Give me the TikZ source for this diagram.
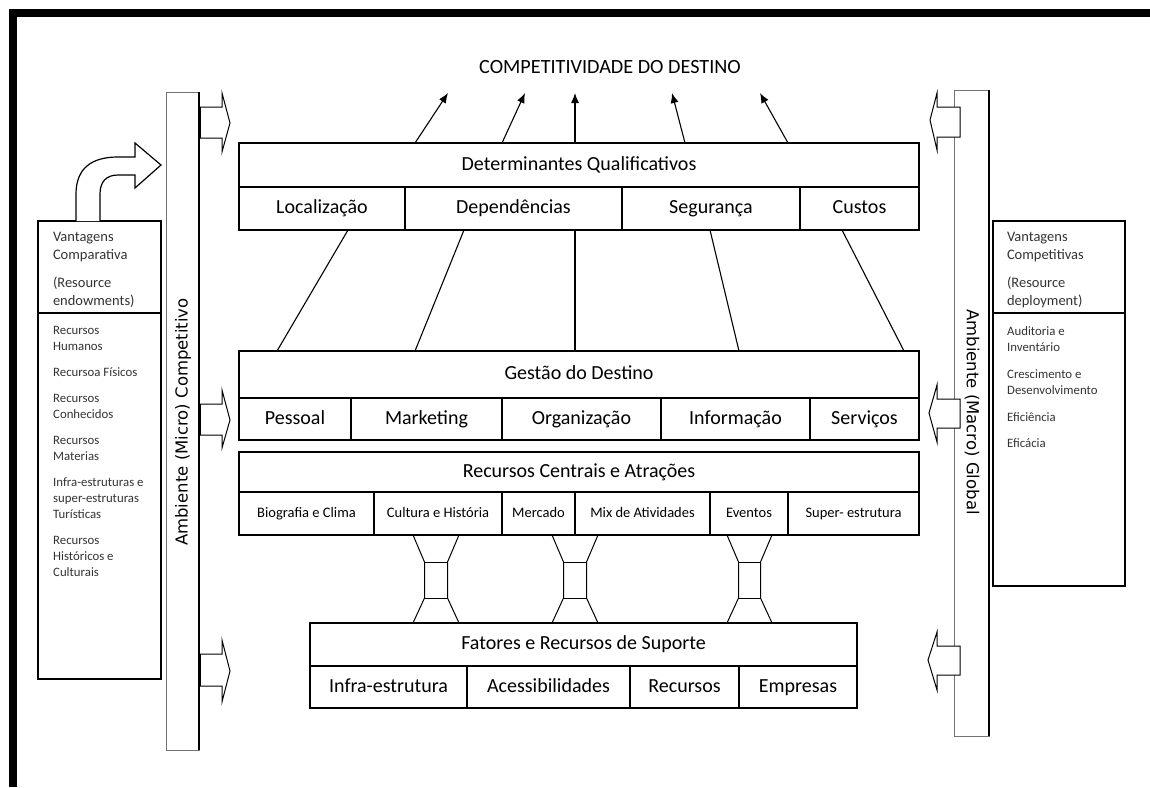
\documentclass[tikz,border=0pt]{standalone}
\usepackage{fontspec}
\setmainfont{Carlito}
\newfontfamily\barfont{DejaVu Sans}
\usepackage{tikz}
\usetikzlibrary{positioning}
\usetikzlibrary{arrows.meta}

\tikzset{
  cell/.style={draw, line width=1.2pt, inner sep=0pt, outer sep=0pt, text height=14pt, text depth=4pt, font=\fontsize{20}{24}\selectfont},
  smallcell/.style={cell, text height=10pt, text depth=3pt, font=\fontsize{14.5}{17}\selectfont},
  sidebox/.style={draw, line width=1.2pt, inner sep=0pt, outer sep=0pt, anchor=north west},
  sidehead/.style={align=left, text=black!80, font=\fontsize{14.5}{18}\selectfont},
  sidelist/.style={anchor=north west, align=left, inner sep=0pt, text=black!80, font=\fontsize{12.8}{16}\selectfont},
  bartext/.style={font=\barfont\fontsize{16.5}{19}\selectfont},
  blockarrow/.style={line width=1pt, fill=white},
  qarrow/.style={-{Latex[length=10pt,width=8pt]}, line width=1.1pt},
}

\begin{document}
\begin{tikzpicture}[x=1pt,y=-1pt]
\useasboundingbox (0,0) rectangle (1150,787);
% frame
\draw[line width=8.6pt] (12.8,787) -- (12.8,12.8) -- (1150,12.8);

\node[font=\fontsize{20.2}{23}\selectfont] (comp) at (610,67) {COMPETITIVIDADE DO DESTINO};

% determinantes
\node[cell, anchor=north west, minimum width=680, minimum height=44] (qual) at (239,143) {Determinantes Qualificativos};
\node[cell, anchor=north west, minimum width=166, minimum height=43] (loc) at (qual.south west) {Localização};
\node[cell, right=0pt of loc, minimum width=217, minimum height=43] (dep) {Dependências};
\node[cell, right=0pt of dep, minimum width=178, minimum height=43] (seg) {Segurança};
\node[cell, right=0pt of seg, minimum width=119, minimum height=43] (cus) {Custos};

% gestao
\node[cell, anchor=north west, minimum width=680, minimum height=47] (gest) at (239,351) {Gestão do Destino};
\node[cell, anchor=north west, minimum width=112, minimum height=42] (pes) at (gest.south west) {Pessoal};
\node[cell, right=0pt of pes, minimum width=151, minimum height=42] (mkt) {Marketing};
\node[cell, right=0pt of mkt, minimum width=159, minimum height=42] (org) {Organização};
\node[cell, right=0pt of org, minimum width=149, minimum height=42] (inf) {Informação};
\node[cell, right=0pt of inf, minimum width=109, minimum height=42] (ser) {Serviços};

% recursos centrais
\node[cell, anchor=north west, minimum width=680, minimum height=40] (rec) at (239,452) {Recursos Centrais e Atrações};
\node[smallcell, anchor=north west, minimum width=135, minimum height=43] (bio) at (rec.south west) {Biografia e Clima};
\node[smallcell, right=0pt of bio, minimum width=128, minimum height=43] (cul) {Cultura e História};
\node[smallcell, right=0pt of cul, minimum width=73, minimum height=43] (mer) {Mercado};
\node[smallcell, right=0pt of mer, minimum width=135, minimum height=43] (mix) {Mix de Atividades};
\node[smallcell, right=0pt of mix, minimum width=78, minimum height=43] (eve) {Eventos};
\node[smallcell, right=0pt of eve, minimum width=131, minimum height=43] (sup) {Super- estrutura};

% fatores
\node[cell, anchor=north west, minimum width=547, minimum height=43] (fat) at (310,623) {Fatores e Recursos de Suporte};
\node[cell, anchor=north west, minimum width=157, minimum height=42] (infra) at (fat.south west) {Infra-estrutura};
\node[cell, right=0pt of infra, minimum width=163, minimum height=42] (ace) {Acessibilidades};
\node[cell, right=0pt of ace, minimum width=109, minimum height=42] (rcs) {Recursos};
\node[cell, right=0pt of rcs, minimum width=118, minimum height=42] (emp) {Empresas};

% arrows to the top
\coordinate (a1) at (415,143); \coordinate (t1) at (448,93);
\coordinate (a2) at (502,143); \coordinate (t2) at (525,93);
\coordinate (a3) at (575,143); \coordinate (t3) at (575,93);
\coordinate (a4) at (685,143); \coordinate (t4) at (672,93);
\coordinate (a5) at (788,143); \coordinate (t5) at (760,93);
\draw[qarrow] (a1) -- (t1);
\draw[qarrow] (a2) -- (t2);
\draw[qarrow] (a3) -- (t3);
\draw[qarrow] (a4) -- (t4);
\draw[qarrow] (a5) -- (t5);

% lines between determinantes and gestao
\coordinate (q1) at (348,230); \coordinate (g1) at (277,351);
\coordinate (q2) at (464,230); \coordinate (g2) at (415,351);
\coordinate (q3) at (575,230); \coordinate (g3) at (575,351);
\coordinate (q4) at (710,230); \coordinate (g4) at (739,351);
\coordinate (q5) at (842,230); \coordinate (g5) at (904,351);
\draw[line width=1.1pt] (q1) -- (g1);
\draw[line width=1.1pt] (q2) -- (g2);
\draw[line width=1.1pt] (q3) -- (g3);
\draw[line width=1.1pt] (q4) -- (g4);
\draw[line width=1.1pt] (q5) -- (g5);

% links to fatores
\draw[line width=1pt] (413,535) -- (424.5,562) -- (424.5,598) -- (413,623);
\draw[line width=1pt] (459,535) -- (447.5,562) -- (447.5,598) -- (459,623);
\draw[line width=1pt] (424.5,562) rectangle (447.5,598);
\draw[line width=1pt] (552,535) -- (563.5,562) -- (563.5,598) -- (552,623);
\draw[line width=1pt] (598,535) -- (586.5,562) -- (586.5,598) -- (598,623);
\draw[line width=1pt] (563.5,562) rectangle (586.5,598);
\draw[line width=1pt] (727,535) -- (738.5,562) -- (738.5,598) -- (727,623);
\draw[line width=1pt] (772,535) -- (760.5,562) -- (760.5,598) -- (772,623);
\draw[line width=1pt] (738.5,562) rectangle (760.5,598);

% left side
\draw[line width=1pt, black!55] (166,92) rectangle (199,750);
\draw[line width=1.3pt] (199,92) -- (199,750);
\node[bartext, rotate=90] (micro) at (183,422) {Ambiente (Micro) Competitivo};
\draw[blockarrow] (199,107) -- (222,107) -- (222,93) -- (230,123) -- (222,152) -- (222,138) -- (199,138);
\draw[blockarrow] (199,404) -- (222,404) -- (222,390) -- (230,420) -- (222,448) -- (222,435) -- (199,435);
\draw[blockarrow] (199,654) -- (222,654) -- (222,640) -- (230,671) -- (222,702) -- (222,686) -- (199,686);
\draw[line width=3pt] (199,107) -- (199,138) (199,404) -- (199,435) (199,654) -- (199,686);

\node[sidebox, minimum width=123, minimum height=92] (vcomp) at (38,221) {};
\node[sidehead, text width=93] (vcomptext) at ([yshift=-3pt]vcomp.center) {Vantagens\\Comparativa\\[10pt](Resource\\endowments)};
\node[sidebox, minimum width=123, minimum height=366] (rlist) at (vcomp.south west) {};
\node[sidelist] (rlisttext) at (53,326) {Recursos\\Humanos\\[10pt]Recursoa Físicos\\[10pt]Recursos\\Conhecidos\\[10pt]Recursos\\Materias\\[10pt]Infra-estruturas e\\super-estruturas\\Turísticas\\[10pt]Recursos\\Históricos e\\Culturais};
\draw[line width=1.2pt, fill=white] (76,221) -- (76,194) .. controls (76,168) and (92,157) .. (118,157) -- (135,157) -- (135,143) -- (161,165) -- (135,188) -- (135,175) -- (118,175) .. controls (106,175) and (100,182) .. (100,194) -- (100,221);

% right side
\draw[line width=1pt, black!55] (954,90) rectangle (989,736);
\draw[line width=1.5pt] (989,90) -- (989,736);
\node[bartext, rotate=-90] (macro) at (972,412) {Ambiente (Macro) Global};
\draw[blockarrow] (960,107) -- (937,107) -- (937,93) -- (930,120) -- (937,150) -- (937,137) -- (960,137) -- cycle;
\draw[blockarrow] (960,399) -- (937,399) -- (937,385) -- (929,413) -- (937,442) -- (937,428) -- (960,428) -- cycle;
\draw[blockarrow] (960,646) -- (937,646) -- (937,632) -- (928,660) -- (937,690) -- (937,675) -- (960,675) -- cycle;

\node[sidebox, minimum width=132, minimum height=92] (vcomt) at (993,221) {};
\node[sidehead, text width=104] (vcomttext) at ([yshift=-3pt]vcomt.center) {Vantagens\\Competitivas\\[10pt](Resource\\deployment)};
\node[sidebox, minimum width=132, minimum height=273] (dlist) at (vcomt.south west) {};
\node[sidelist] (dlisttext) at (1007,326) {Auditoria e\\Inventário\\[11pt]Crescimento e\\Desenvolvimento\\[11pt]Eficiência\\[10pt]Eficácia};
\end{tikzpicture}
\end{document}
